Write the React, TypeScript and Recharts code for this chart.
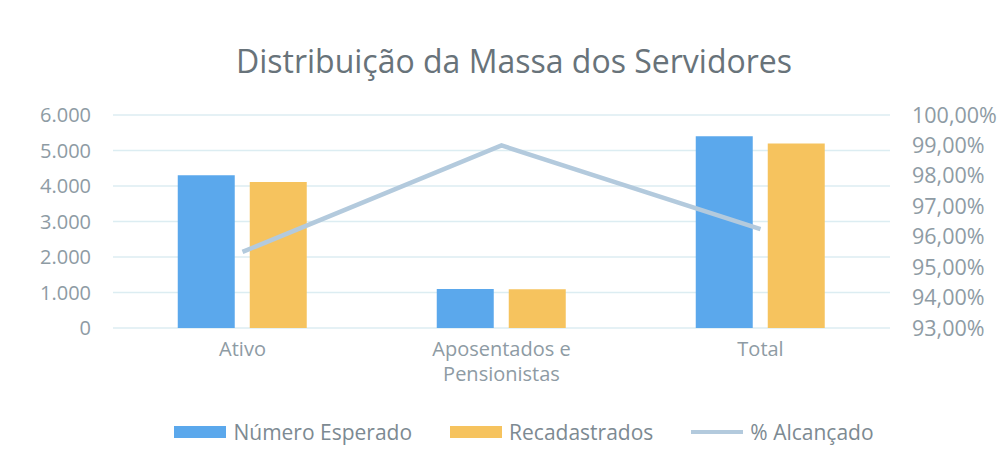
import { Bar, CartesianGrid, ComposedChart, Legend, Line, Text, XAxis, YAxis } from "recharts"

const categories = ["Ativo", "Aposentados e Pensionistas", "Total"]
const esperado = [4300, 1100, 5400]
const recadastrados = [4110, 1090, 5200]
const alcancado = [95.5, 99.0, 96.25]
const leftTicks = [0, 1000, 2000, 3000, 4000, 5000, 6000]
const rightTicks = [93, 94, 95, 96, 97, 98, 99, 100]

const series = [
  { key: "esperado", name: "Número Esperado", color: "#5ba8ec", kind: "bar" },
  { key: "recadastrados", name: "Recadastrados", color: "#f6c35e", kind: "bar" },
  { key: "alcancado", name: "% Alcançado", color: "#b3cadd", kind: "line" },
]

const data = categories.map((name, i) => ({
  name,
  esperado: esperado[i],
  recadastrados: recadastrados[i],
  alcancado: alcancado[i],
}))

const FONT = "'Open Sans', sans-serif"
const AXIS_COLOR = "#8e9ba4"

const fmtThousands = (v: number) => (v === 0 ? "0" : v.toLocaleString("de-DE"))
const fmtPct = (v: number) => v.toFixed(2).replace(".", ",") + "%"

function CategoryTick({ x, y, payload }: any) {
  return (
    <Text
      x={x}
      y={y}
      width={170}
      textAnchor="middle"
      verticalAnchor="start"
      lineHeight={25}
      fill={AXIS_COLOR}
      fontSize={20}
      fontFamily={FONT}
    >
      {payload.value}
    </Text>
  )
}

function LegendBox() {
  return (
    <div
      style={{
        display: "flex",
        justifyContent: "center",
        alignItems: "center",
        height: 40,
        gap: 38,
        paddingLeft: 44,
      }}
    >
      {series.map((s) => (
        <div key={s.key} style={{ display: "flex", alignItems: "center", gap: 7 }}>
          <div style={{ width: 52, height: s.kind === "bar" ? 12 : 4, background: s.color }} />
          <span style={{ fontFamily: FONT, fontSize: 21, color: "#7d8a92" }}>{s.name}</span>
        </div>
      ))}
    </div>
  )
}

export default function App() {
  return (
    <div style={{ position: "absolute", left: 0, top: 0, width: 1004, height: 462, background: "#fff" }}>
      <style>{"body{margin:0}"}</style>
      <div
        style={{
          position: "absolute",
          top: 39,
          left: 24,
          width: 980,
          textAlign: "center",
          fontFamily: FONT,
          fontSize: 32,
          color: "#68737a",
        }}
      >
        Distribuição da Massa dos Servidores
      </div>
      <ComposedChart
        width={1004}
        height={462}
        data={data}
        margin={{ top: 115, right: 0, bottom: 10, left: 0 }}
        barGap={15}
        barCategoryGap="25%"
      >
        <CartesianGrid yAxisId="left" vertical={false} stroke="#dcedf2" strokeWidth={1.5} />
        <XAxis
          dataKey="name"
          height={84}
          axisLine={false}
          tickLine={false}
          tickSize={0}
          tickMargin={14}
          interval={0}
          tick={<CategoryTick />}
        />
        <YAxis
          yAxisId="left"
          width={113}
          domain={[0, 6000]}
          ticks={leftTicks}
          interval={0}
          tickFormatter={fmtThousands}
          axisLine={false}
          tickLine={false}
          tickSize={0}
          tickMargin={22}
          tick={{ fill: AXIS_COLOR, fontSize: 20, fontFamily: FONT }}
        />
        <YAxis
          yAxisId="right"
          orientation="right"
          width={114}
          domain={[93, 100]}
          ticks={rightTicks}
          interval={0}
          tickFormatter={fmtPct}
          axisLine={false}
          tickLine={false}
          tickSize={0}
          tickMargin={22}
          tick={{ fill: AXIS_COLOR, fontSize: 21.5, fontFamily: FONT }}
        />
        <Bar yAxisId="left" dataKey="esperado" name="Número Esperado" fill="#5ba8ec" isAnimationActive={false} />
        <Bar yAxisId="left" dataKey="recadastrados" name="Recadastrados" fill="#f6c35e" isAnimationActive={false} />
        <Line
          yAxisId="right"
          dataKey="alcancado"
          name="% Alcançado"
          stroke="#b3cadd"
          strokeWidth={4.5}
          dot={false}
          activeDot={false}
          isAnimationActive={false}
        />
        <Legend verticalAlign="bottom" content={<LegendBox />} />
      </ComposedChart>
    </div>
  )
}
